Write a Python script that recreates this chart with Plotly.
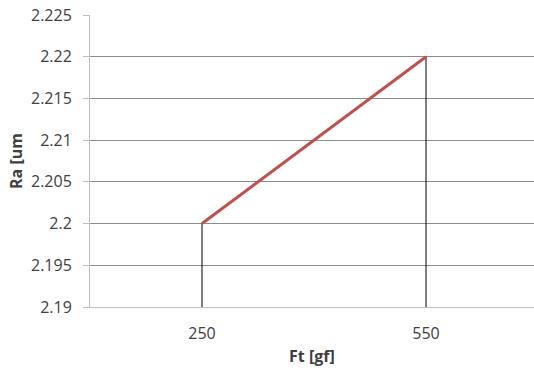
import plotly.graph_objects as go

ft_labels = ["250", "550"]
ra_values = [2.2, 2.22]
y_ticks = [2.19, 2.195, 2.2, 2.205, 2.21, 2.215, 2.22, 2.225]
y_min, y_max = 2.19, 2.225

fig = go.Figure()
# drop lines
for lab, val in zip(ft_labels, ra_values):
    fig.add_trace(go.Scatter(x=[lab, lab], y=[y_min, val], mode="lines",
                             line=dict(color="#000000", width=1), hoverinfo="skip",
                             showlegend=False))
fig.add_trace(go.Scatter(x=ft_labels, y=ra_values, mode="lines",
                         line=dict(color="#C0504D", width=3), showlegend=False))

font = "'Open Sans', sans-serif"
txt = "#404040"
fig.update_layout(
    width=534, height=374,
    margin=dict(l=90, r=0, t=15, b=67),
    plot_bgcolor="white", paper_bgcolor="white",
    font=dict(family=font, size=16, color=txt),
    xaxis=dict(type="category", range=[-0.5, 1.482], showgrid=False,
               showline=True, linecolor="#BFBFBF", linewidth=1,
               ticks="", tickfont=dict(size=16, color=txt), ticklabelstandoff=12),
    yaxis=dict(range=[y_min, y_max], tickvals=y_ticks,
               ticktext=[f"{v:g}" for v in y_ticks],
               showgrid=True, gridcolor="#8C8C8C", gridwidth=1,
               showline=True, linecolor="#BFBFBF", linewidth=1,
               ticks="outside", ticklen=6, tickcolor="#BFBFBF",
               zeroline=False, tickfont=dict(size=16, color=txt), ticklabelstandoff=8,
               ticklabeloverflow="allow"),
    annotations=[
        dict(text="<b>Ra [um</b>", xref="paper", yref="paper", x=0, y=0.5,
             xanchor="center", yanchor="middle", xshift=-74, textangle=-90,
             showarrow=False, font=dict(size=16, color=txt)),
        dict(text="<b>Ft [gf]</b>", xref="paper", yref="paper", x=0.5, y=0,
             xanchor="center", yanchor="middle", yshift=-49,
             showarrow=False, font=dict(size=16, color=txt)),
    ],
)
fig.write_html("out.html", config={"displayModeBar": False},
               post_script="document.body.style.margin='0';document.body.style.overflow='hidden';")
